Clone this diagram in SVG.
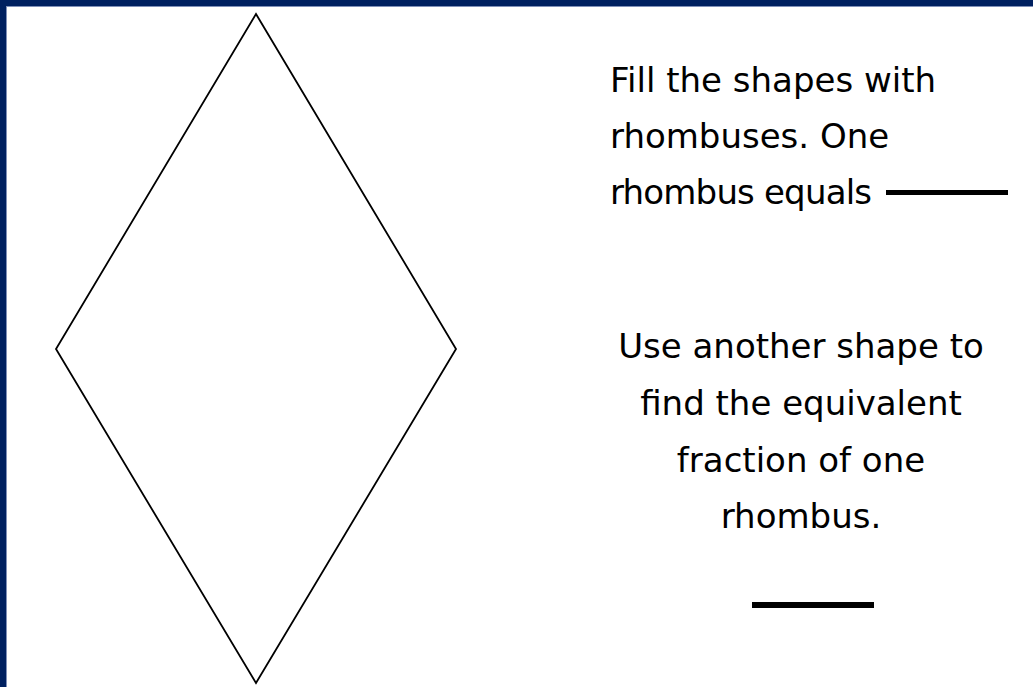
<svg xmlns="http://www.w3.org/2000/svg" width="1033" height="687" viewBox="0 0 1033 687">
  <style>
    .t { font-family: "Comic Sans MS", "DejaVu Sans", sans-serif; font-size: 34px; fill: #000; }
    .c { text-anchor: middle; }
    .blank { fill: #000; }
  </style>
  <rect x="0" y="0" width="1033" height="687" fill="#002060"/>
  <rect x="6" y="6" width="1027" height="681" fill="#8090b8"/>
  <rect x="7" y="7" width="1026" height="680" fill="#ffffff"/>
  <g id="rhombus">
    <polygon points="256,14 456,349 256,683 56,349" fill="none" stroke="#000" stroke-width="1.8"/>
  </g>
  <g id="instructions">
    <text class="t" x="610" y="92">Fill the shapes with</text>
    <text class="t" x="610" y="148">rhombuses. One</text>
    <text class="t" x="610" y="204" textLength="262">rhombus equals</text>
    <rect class="blank" x="886" y="190" width="122" height="5"/>
  </g>
  <g id="question">
    <text class="t c" x="801" y="358">Use another shape to</text>
    <text class="t c" x="801" y="415">find the equivalent</text>
    <text class="t c" x="801" y="472">fraction of one</text>
    <text class="t c" x="801" y="528">rhombus.</text>
    <rect class="blank" x="752" y="602" width="122" height="6"/>
  </g>
</svg>
